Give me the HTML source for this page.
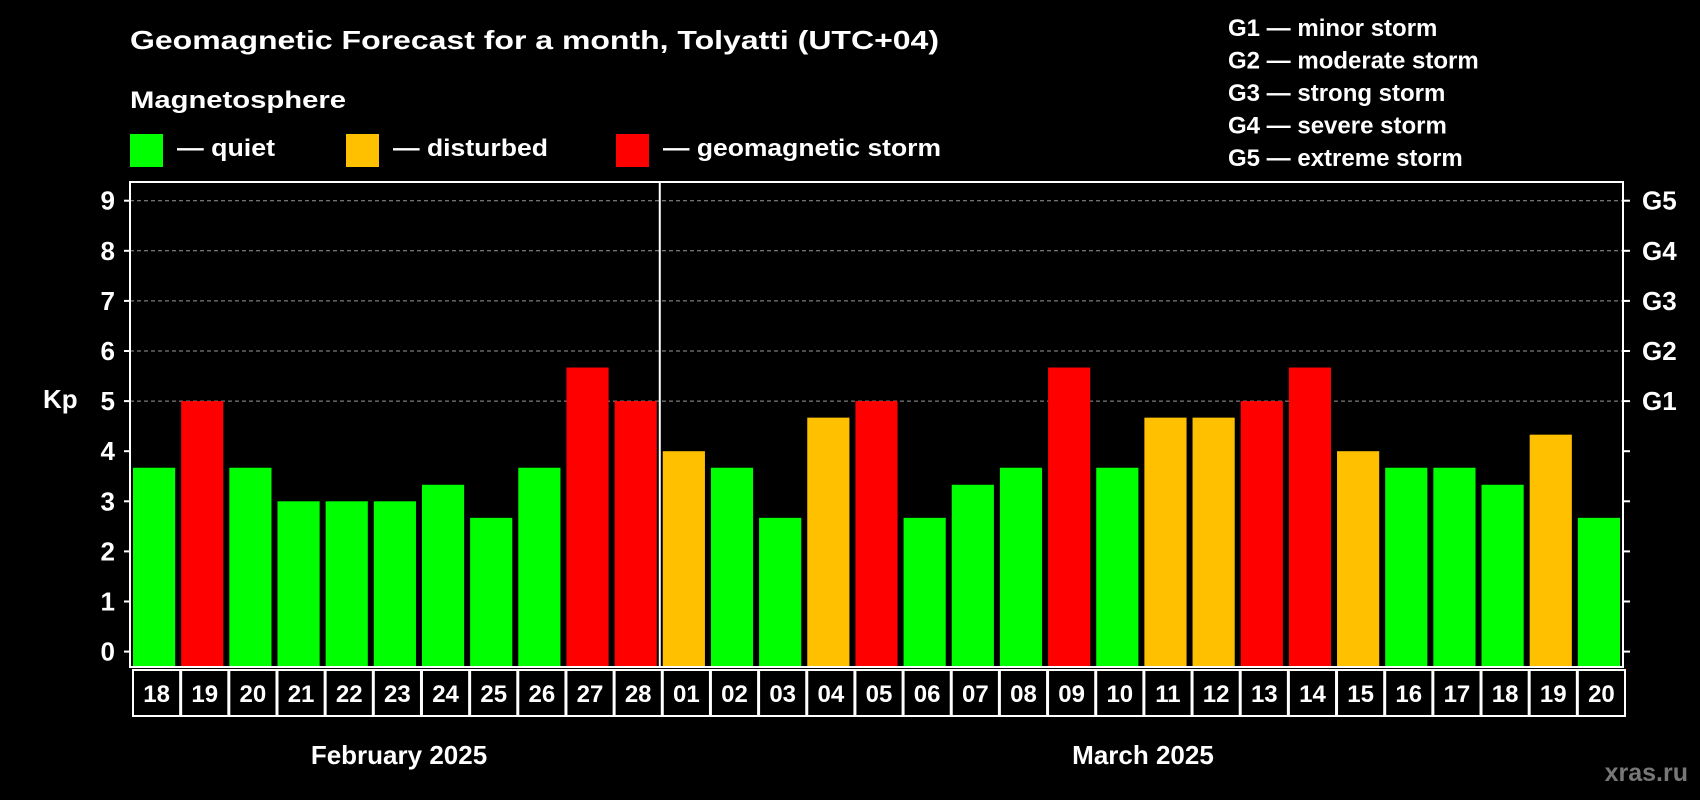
<!DOCTYPE html>
<html><head><meta charset="utf-8"><style>
html,body{margin:0;padding:0;background:#000;}
svg{display:block;font-family:"Liberation Sans",sans-serif;font-weight:bold;}
</style></head><body>
<svg id="chart" width="1700" height="800" viewBox="0 0 1700 800">
<rect x="0" y="0" width="1700" height="800" fill="#000"/>
<text x="130" y="49" fill="#fff" font-size="26" textLength="809" lengthAdjust="spacingAndGlyphs">Geomagnetic Forecast for a month, Tolyatti (UTC+04)</text>
<text x="130" y="108" fill="#fff" font-size="24" textLength="216" lengthAdjust="spacingAndGlyphs">Magnetosphere</text>
<g>
<rect x="130" y="134" width="33" height="33" fill="#00ff00"/>
<text x="177" y="156" fill="#fff" font-size="24" textLength="98" lengthAdjust="spacingAndGlyphs">— quiet</text></g>
<g>
<rect x="346" y="134" width="33" height="33" fill="#ffc000"/>
<text x="393" y="156" fill="#fff" font-size="24" textLength="155" lengthAdjust="spacingAndGlyphs">— disturbed</text></g>
<g>
<rect x="616" y="134" width="33" height="33" fill="#ff0000"/>
<text x="663" y="156" fill="#fff" font-size="24" textLength="278" lengthAdjust="spacingAndGlyphs">— geomagnetic storm</text></g>
<g id="glegend"></g>
<g id="grid"></g>
<g id="bars"></g>
<g id="frame"></g>
<g id="xaxis"></g>
<text x="43" y="408" fill="#fff" font-size="26">Kp</text>
<text x="399" y="764" fill="#fff" font-size="26" text-anchor="middle">February 2025</text>
<text x="1143" y="764" fill="#fff" font-size="26" text-anchor="middle">March 2025</text>
<text x="1688" y="781" fill="#777" font-size="25" text-anchor="end">xras.ru</text>
</svg>
<script>
const dayLabels = ["18","19","20","21","22","23","24","25","26","27","28","01","02","03","04","05","06","07","08","09","10","11","12","13","14","15","16","17","18","19","20"];
const kpValues = [3.67,5,3.67,3,3,3,3.33,2.67,3.67,5.67,5,4,3.67,2.67,4.67,5,2.67,3.33,3.67,5.67,3.67,4.67,4.67,5,5.67,4,3.67,3.67,3.33,4.33,2.67];
const yTicks = [0,1,2,3,4,5,6,7,8,9];
const gLabels = ["G1","G2","G3","G4","G5"];
const gLevels = [5,6,7,8,9];
const gLegend = ["G1 — minor storm","G2 — moderate storm","G3 — strong storm","G4 — severe storm","G5 — extreme storm"];
const monthSplitIndex = 11;

const NS = "http://www.w3.org/2000/svg";
const L = 130, R = 1623, T = 182, B = 667;
const y0 = 651.6, yUnit = 50.1;
const step = (R - L) / dayLabels.length;
function y(v){ return y0 - v * yUnit; }
function x(i){ return L + i * step; }
function mk(tag, attrs, parent){ const e = document.createElementNS(NS, tag); for (const k in attrs) e.setAttribute(k, attrs[k]); parent.appendChild(e); return e; }
function color(v){ return v >= 5 ? "#ff0000" : (v >= 4 ? "#ffc000" : "#00ff00"); }

const grid = document.getElementById("grid");
yTicks.forEach(t => {
  if (t >= 5) {
    const gl = mk("line", {x1:L, x2:R, y1:y(t), y2:y(t), stroke:"#999", "stroke-width":1, "stroke-dasharray":"4,3"}, grid);
    
    
  }
  const tl = mk("line", {x1:L-6, x2:L, y1:y(t), y2:y(t), stroke:"#fff", "stroke-width":2}, grid);
  
  
  const tr = mk("line", {x1:R, x2:R+7, y1:y(t), y2:y(t), stroke:"#fff", "stroke-width":2}, grid);
  
  
  const lb = mk("text", {x:L-15, y:y(t)+9, fill:"#fff", "font-size":26, "text-anchor":"end"}, grid);
  lb.textContent = t;
  
  
});
gLabels.forEach((g, i) => {
  const lb = mk("text", {x:R+19, y:y(gLevels[i])+9, fill:"#fff", "font-size":26}, grid);
  lb.textContent = g;
  
  
});

const bars = document.getElementById("bars");
kpValues.forEach((v, i) => {
  const b = mk("rect", {x:x(i)+3, y:y(v), width:step-6, height:B-y(v), fill:color(v)}, bars);
  
  
});

const frame = document.getElementById("frame");
const fr = mk("rect", {x:L, y:T, width:R-L, height:B-T, fill:"none", stroke:"#fff", "stroke-width":2}, frame);


const dv = mk("line", {x1:x(monthSplitIndex), x2:x(monthSplitIndex), y1:T, y2:B, stroke:"#fff", "stroke-width":2}, frame);



const xa = document.getElementById("xaxis");
dayLabels.forEach((d, i) => {
  const c = mk("rect", {x:x(i)+3, y:670, width:step-1, height:46, fill:"#000", stroke:"#fff", "stroke-width":2}, xa);
  
  
  const t = mk("text", {x:x(i)+3+(step-1)/2, y:702, fill:"#fff", "font-size":24, "text-anchor":"middle"}, xa);
  t.textContent = d;
  
  
});

const gl = document.getElementById("glegend");
gLegend.forEach((s, i) => {
  const t = mk("text", {x:1228, y:36 + i*32.5, fill:"#fff", "font-size":24}, gl);
  t.textContent = s;
  
  
});
</script>
</body></html>
